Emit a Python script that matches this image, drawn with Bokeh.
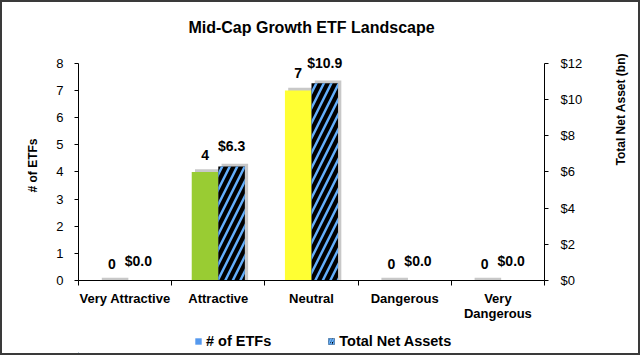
import math
from bokeh.plotting import figure
from bokeh.layouts import column
from bokeh.models import (Range1d, LinearAxis, FixedTicker, NumeralTickFormatter,
                          Legend, LegendItem, ColumnDataSource)
from bokeh.core.properties import value
from bokeh.embed import file_html
from bokeh.resources import INLINE

title_text = "Mid-Cap Growth ETF Landscape"
categories = ["Very Attractive", "Attractive", "Neutral", "Dangerous", "Very Dangerous"]
category_labels = ["Very Attractive", "Attractive", "Neutral", "Dangerous", "Very\nDangerous"]
num_etfs = [0, 4, 7, 0, 0]
net_assets = [0.0, 6.3, 10.9, 0.0, 0.0]
etf_labels = ["0", "4", "7", "0", "0"]
asset_labels = ["$0.0", "$6.3", "$10.9", "$0.0", "$0.0"]
bar_colors = ["#1E7B1E", "#99CC33", "#FFFF33", "#FF3333", "#990000"]
left_ticks = [0, 1, 2, 3, 4, 5, 6, 7, 8]
right_ticks = [0, 2, 4, 6, 8, 10, 12]
left_max = 8
right_max = 12

FONT_NAME = "Liberation Sans"
FONT = value(FONT_NAME)
HATCH_BLUE = "#63AEFA"
SHADOW = "#C8C8C8"
W = 636

# headroom above the top tick so that data labels are not clipped
head = 233 / 220

n = len(categories)
centers = [i + 0.5 for i in range(n)]
half = 0.1425
bw = 0.285
dx = 0.035
x_etf = [c - half for c in centers]
x_tna = [c + half for c in centers]


def strip(h):
    f = figure(width=W, height=h, output_backend="svg", toolbar_location=None,
               x_range=Range1d(0, 1), y_range=Range1d(0, h),
               x_axis_type=None, y_axis_type=None, min_border=0)
    f.outline_line_color = None
    f.xgrid.visible = False
    f.ygrid.visible = False
    f.border_fill_color = "white"
    f.background_fill_color = "white"
    return f


# title strip
tf = strip(40)
tf.text(x=[0.5], y=[15], text=[title_text], text_font=FONT, text_font_style="bold",
        text_font_size="16px", text_align="center", text_baseline="middle", text_color="black")

p = figure(width=W, height=281, output_backend="svg", toolbar_location=None,
           x_range=Range1d(0, n), y_range=Range1d(0, left_max * head),
           min_border_left=76, min_border_right=89, min_border_top=8, min_border_bottom=40)
p.extra_y_ranges = {"tna": Range1d(0, right_max * head)}
p.outline_line_color = None
p.xgrid.visible = False
p.ygrid.visible = False
p.background_fill_color = "white"
p.border_fill_color = "white"

# shadows
src_etf = ColumnDataSource(dict(x=x_etf, top=num_etfs, color=bar_colors,
                                sx=[x + dx for x in x_etf], stop=[v + 0.1 for v in num_etfs]))
sh_tna_x = [x + dx for x, v in zip(x_tna, net_assets) if v > 0]
sh_tna_top = [v + 0.15 for v in net_assets if v > 0]
p.vbar(x="sx", top="stop", bottom=0, width=bw, source=src_etf, fill_color=SHADOW, line_color=None)
p.vbar(x=sh_tna_x, top=sh_tna_top, bottom=0, width=bw, fill_color=SHADOW, line_color=None,
       y_range_name="tna")

# bars
p.vbar(x="x", top="top", bottom=0, width=bw, source=src_etf, fill_color="color", line_color=None)
p.vbar(x=x_tna, top=net_assets, bottom=0, width=bw, fill_color="black", line_color=None,
       hatch_pattern="/", hatch_color=HATCH_BLUE, hatch_weight=2.5, hatch_scale=15,
       y_range_name="tna")

# data labels
p.text(x=x_etf, y=num_etfs, text=etf_labels, text_font=FONT, text_font_style="bold",
       text_font_size="14px", text_align="center", text_baseline="bottom", y_offset=-12)
p.text(x=x_tna, y=net_assets, text=asset_labels, text_font=FONT, text_font_style="bold",
       text_font_size="14px", text_align="center", text_baseline="bottom", y_offset=-12,
       y_range_name="tna")

# axes
xa = p.xaxis[0]
xa.ticker = FixedTicker(ticks=centers, minor_ticks=list(range(n + 1)))
xa.major_label_overrides = {c: lab for c, lab in zip(centers, category_labels)}
xa.major_tick_out = 0
xa.major_tick_in = 0
xa.minor_tick_out = 5
xa.minor_tick_in = 0
xa.major_label_standoff = 5
xa.major_label_text_font = FONT_NAME
xa.major_label_text_font_style = "bold"
xa.major_label_text_font_size = "13px"
xa.major_label_text_line_height = 1.0
xa.major_label_text_color = "black"
xa.axis_line_color = "black"

ya = p.yaxis[0]
ya.ticker = FixedTicker(ticks=left_ticks)
ya.bounds = (0, left_max)
ya.minor_tick_out = 0
ya.minor_tick_in = 0
ya.major_tick_out = 4
ya.major_tick_in = 0
ya.major_label_standoff = 11
ya.major_label_text_font = FONT_NAME
ya.major_label_text_font_size = "13px"
ya.major_label_text_color = "black"
ya.axis_label = "# of ETFs"
ya.axis_label_text_font = FONT_NAME
ya.axis_label_text_font_style = "bold"
ya.axis_label_text_font_size = "12px"
ya.axis_label_text_color = "black"
ya.axis_label_standoff = 13
ya.axis_line_color = "black"

ra = LinearAxis(y_range_name="tna", ticker=FixedTicker(ticks=right_ticks),
                formatter=NumeralTickFormatter(format="$0"), bounds=(0, right_max))
ra.minor_tick_out = 0
ra.minor_tick_in = 0
ra.major_tick_out = 4
ra.major_tick_in = 0
ra.major_label_standoff = 12
ra.major_label_text_font = FONT_NAME
ra.major_label_text_font_size = "13px"
ra.major_label_text_color = "black"
ra.axis_label = "Total Net Asset (bn)"
ra.axis_label_orientation = math.pi / 2
ra.axis_label_text_font = FONT_NAME
ra.axis_label_text_font_style = "bold"
ra.axis_label_text_font_size = "12px"
ra.axis_label_text_color = "black"
ra.axis_label_standoff = 36
ra.axis_line_color = "black"
p.add_layout(ra, "right")

# legend strip beneath the chart
lf = strip(30)
leg_etf = lf.vbar(x=[-10], top=[1], width=0.1, fill_color="#5599EE", line_color=None)
leg_tna = lf.vbar(x=[-10], top=[1], width=0.1, fill_color="black", line_color=None,
                  hatch_pattern="/", hatch_color=HATCH_BLUE, hatch_weight=2, hatch_scale=5)
legend = Legend(items=[LegendItem(label="# of ETFs", renderers=[leg_etf]),
                       LegendItem(label="Total Net Assets", renderers=[leg_tna])],
                location=(116, 4), orientation="horizontal",
                glyph_width=8, glyph_height=8, label_standoff=4, spacing=56,
                padding=0, margin=0, border_line_color=None, background_fill_alpha=0,
                label_text_font=FONT_NAME, label_text_font_style="bold",
                label_text_font_size="14.5px", label_text_color="black")
lf.add_layout(legend)

layout = column(tf, p, lf, spacing=0)
layout.styles = {"border": "2px solid #3a3a3a", "background-color": "white"}

open("out.html", "w").write(file_html(layout, INLINE))
